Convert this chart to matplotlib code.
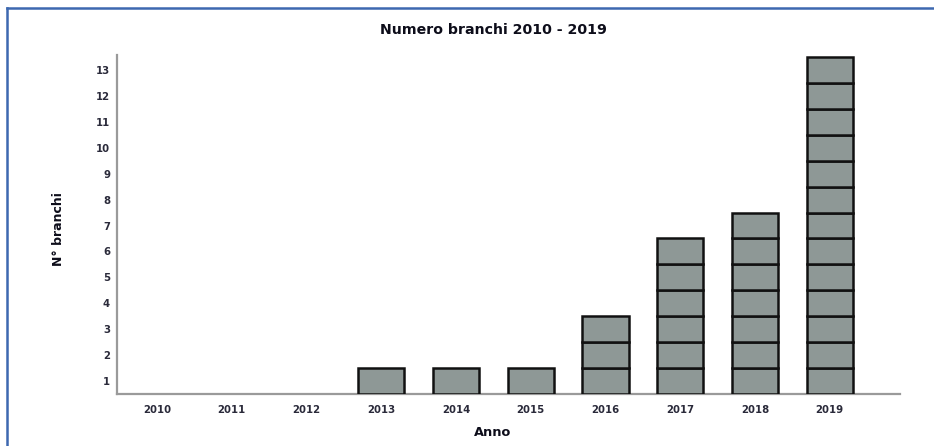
import matplotlib
matplotlib.use("Agg")
import matplotlib.pyplot as plt
from matplotlib.lines import Line2D
import numpy as np

years = ["2010", "2011", "2012", "2013", "2014", "2015", "2016", "2017", "2018", "2019"]
counts = [0, 0, 0, 1, 1, 1, 3, 6, 7, 13]
y_tick_labels = [str(k) for k in range(1, 14)]

title = "Numero branchi 2010 - 2019"
xlabel = "Anno"
ylabel = "N° branchi"

W, H = 934, 446
fig = plt.figure(figsize=(W / 100, H / 100), dpi=100)
ax = fig.add_axes([117 / W, 1 - 394 / H, (900 - 117) / W, (394 - 55) / H])

fill = "#8e9896"
x = np.arange(len(years))
for i, v in enumerate(counts):
    if v > 0:
        ax.bar([x[i]] * v, 1, bottom=np.arange(v), width=0.62, color=fill,
               edgecolor="#111111", linewidth=1.8, zorder=3)

ax.set_xlim(-0.535, 9.94)
ax.set_ylim(0, 13.08)

ax.set_xticks(x)
ax.set_xticklabels(years)
ax.set_yticks(np.arange(1, 14) - 0.5)
ax.set_yticklabels(y_tick_labels)
ax.tick_params(axis="both", length=0, labelsize=7.3, colors="#2a2a3a")
for lab in ax.get_xticklabels() + ax.get_yticklabels():
    lab.set_fontweight("bold")
ax.tick_params(axis="x", pad=8)
ax.tick_params(axis="y", pad=5)

for s in ["top", "right"]:
    ax.spines[s].set_visible(False)
for s in ["left", "bottom"]:
    ax.spines[s].set_color("#9a9a9a")
    ax.spines[s].set_linewidth(1.6)

fig.text(493 / W, 1 - 30 / H, title, ha="center", va="center",
         fontsize=10.2, fontweight="bold", color="#0d0d1a")
fig.text(493 / W, 1 - 432 / H, xlabel, ha="center", va="center",
         fontsize=9.3, fontweight="bold", color="#0d0d1a")
fig.text(58 / W, 1 - 229 / H, ylabel, ha="center", va="center", rotation=90,
         fontsize=9, fontweight="bold", color="#0d0d1a")

# blue frame (left and top edges visible)
fig.add_artist(Line2D([7 / W, 7 / W], [0, 1 - 8 / H], transform=fig.transFigure,
                      color="#3d68b0", linewidth=1.8))
fig.add_artist(Line2D([7 / W, 1], [1 - 8 / H, 1 - 8 / H], transform=fig.transFigure,
                      color="#3d68b0", linewidth=1.8))

fig.savefig("out.png", dpi=100)
